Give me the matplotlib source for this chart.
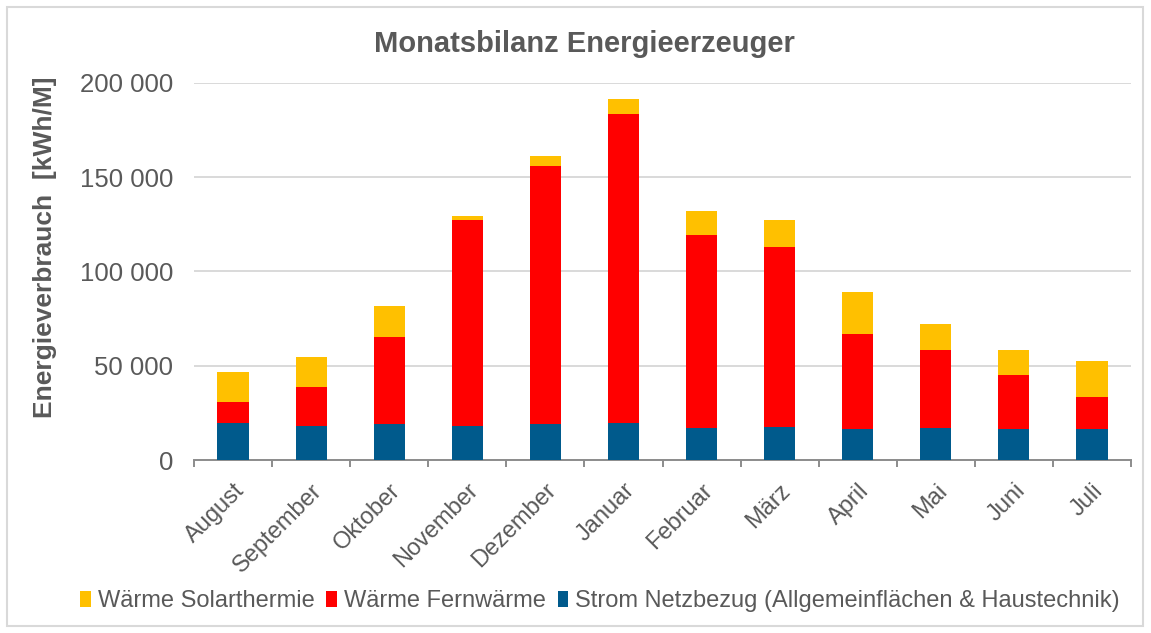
import matplotlib
matplotlib.use("Agg")
import matplotlib.pyplot as plt
import numpy as np
from matplotlib.patches import Rectangle

months = ["August", "September", "Oktober", "November", "Dezember", "Januar",
          "Februar", "März", "April", "Mai", "Juni", "Juli"]
strom = [19400, 18200, 18900, 18200, 18900, 19400, 16950, 17500, 16250, 16950, 16250, 16250]
fernwaerme = [11200, 20300, 46200, 108800, 137200, 164000, 102500, 95200, 50300, 41300, 28600, 17000]
solar = [16200, 15900, 16300, 2100, 4800, 8000, 12700, 14300, 22500, 13700, 13400, 19100]

labels = ["Wärme Solarthermie", "Wärme Fernwärme",
          "Strom Netzbezug (Allgemeinflächen & Haustechnik)"]
colors = ["#FFC000", "#FF0000", "#005A8C"]

plt.rcParams['font.family'] = ['Liberation Sans', 'DejaVu Sans']
grey = "#595959"

fig = plt.figure(figsize=(11.51, 6.33), dpi=100)
ax = fig.add_axes([194/1151, 1-460/633, (1131-194)/1151, (460-82.7)/633])

x = np.arange(len(months))
w = 0.40
b1 = ax.bar(x, strom, w, color=colors[2], label=labels[2], zorder=3)
b2 = ax.bar(x, fernwaerme, w, bottom=strom, color=colors[1], label=labels[1], zorder=3)
bottom3 = np.array(strom) + np.array(fernwaerme)
b3 = ax.bar(x, solar, w, bottom=bottom3, color=colors[0], label=labels[0], zorder=3)

ax.set_xlim(-0.5, len(months)-0.5)
ax.set_ylim(0, 200000)
ax.set_yticks([0, 50000, 100000, 150000, 200000])
ax.set_yticklabels(["0", "50 000", "100 000", "150 000", "200 000"])
ax.yaxis.grid(True, color="#D9D9D9", linewidth=1.4, zorder=0)
ax.set_axisbelow(True)
for s in ["top", "right", "left"]:
    ax.spines[s].set_visible(False)
ax.spines["bottom"].set_color("#8C8C8C")
ax.spines["bottom"].set_linewidth(1.4)
ax.tick_params(axis="y", length=0, labelsize=18.5, labelcolor=grey, pad=15)

ax.set_xticks(x)
ax.set_xticklabels(months, rotation=45, ha="right", rotation_mode="anchor",
                   fontsize=17, color=grey)
ax.tick_params(axis="x", which="major", length=0, pad=14)
ax.set_xticks(np.arange(-0.5, len(months), 1.0), minor=True)
ax.tick_params(axis="x", which="minor", length=5, width=1.4, color="#8C8C8C")

ax.set_ylabel("Energieverbrauch  [kWh/M]", fontsize=19, fontweight="bold",
              color=grey)
ax.yaxis.set_label_coords((57-194)/937, (460-247)/377.3)

fig.text(584/1151, 1-52/633, "Monatsbilanz Energieerzeuger", ha="center", va="baseline",
         fontsize=21, fontweight="bold", color=grey)

handles = [b3, b2, b1]
leg = fig.legend(handles, labels, loc="center", bbox_to_anchor=(600/1151, 1-601/633),
                 ncol=3, frameon=False, fontsize=17, handlelength=0.45, handleheight=0.65,
                 handletextpad=0.3, columnspacing=0.5, borderpad=0.2)
for t in leg.get_texts():
    t.set_color(grey)

fig.patches.append(Rectangle((7/1151, 7/633), (1143-7)/1151, (626-7)/633,
                             transform=fig.transFigure, fill=False,
                             edgecolor="#D9D9D9", linewidth=1.5))

fig.savefig("out.png", dpi=100)
